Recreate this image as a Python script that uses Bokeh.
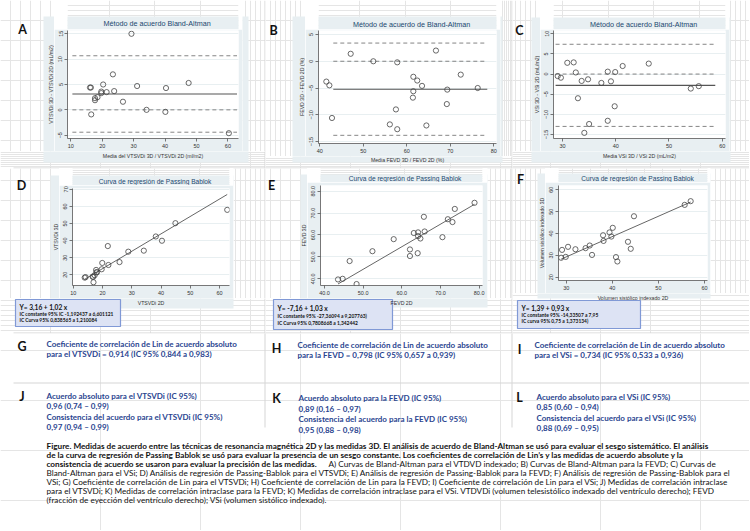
import math
from bokeh.plotting import figure
from bokeh.models import Range1d, FixedTicker, NumeralTickFormatter
from bokeh.layouts import column, row
from bokeh.embed import file_html
from bokeh.resources import INLINE
from bokeh.core.properties import value

# ---------------- data ----------------
# A) Bland-Altman VTSVDi
A_MEAN = [29.3, 23.4, 16.1, 16.4, 20.3, 31.1, 40.3, 47.5, 19.7, 19.7, 21.4, 23.8, 17.7, 18.5, 17.7, 26.6, 16.5, 34.1, 40.1, 60.3]
A_DIFF = [15.0, 7.0, 4.4, 4.4, 5.0, 4.7, 4.3, 5.3, 3.6, 3.3, 3.5, 3.7, 2.3, 2.5, 1.9, 1.6, -0.9, 0.0, -0.4, -4.6]
A_BIAS = 3.13
A_LOA = [-4.41, 10.67]
A_LINE_X = [10.5, 62.9]
A_XTICKS = [10, 20, 30, 40, 50, 60]
A_YTICKS = [-5, 0, 5, 10, 15]

# B) Bland-Altman FEVD
B_MEAN = [47.1, 52.3, 57.8, 66.7, 72.4, 41.5, 42.2, 61.5, 62.4, 63.5, 61.5, 69.3, 76.3, 61.4, 57.5, 69.2, 42.8, 56.1, 57.8, 64.5]
B_DIFF = [1.4, 0.0, -0.2, 2.0, -2.5, -3.8, -4.5, -2.9, -3.6, -4.6, -5.6, -5.3, -5.0, -6.8, -9.0, -8.0, -10.6, -11.8, -12.7, -12.0]
B_BIAS = -5.22
B_LOA = [-13.84, 3.40]
B_LINE_X = [43.1, 78.5]
B_XTICKS = [40, 50, 60, 70, 80]
B_YTICKS = [-15, -10, -5, 0, 5]

# C) Bland-Altman VSi
C_MEAN = [29.1, 29.7, 30.9, 32.1, 32.5, 33.6, 34.8, 37.3, 38.5, 39.1, 39.9, 41.3, 46.2, 32.9, 39.8, 38.5, 35.0, 34.1, 54.1, 55.6]
C_DIFF = [-0.5, -0.9, 2.8, 2.9, 0.4, -1.7, -1.3, -2.2, 0.6, -1.8, 0.5, 2.0, 2.6, -6.0, -8.0, -11.6, -12.4, -14.6, -3.6, -3.0]
C_BIAS = -2.8
C_LOA = [-13.0, 7.4]
C_LINE_X = [28.7, 58.7]
C_XTICKS = [30, 40, 50, 60]
C_YTICKS = [-15, -10, -5, 0, 5, 10]

# D) Passing-Bablok VTSVDi
D_2D = [21.8, 19.9, 13.9, 14.2, 17.8, 28.8, 38.2, 44.9, 17.9, 18.1, 19.7, 22.0, 16.6, 17.3, 16.8, 25.8, 16.9, 34.1, 40.3, 62.6]
D_3D = [36.8, 26.9, 18.3, 18.6, 22.8, 33.5, 42.4, 50.2, 21.5, 21.4, 23.2, 25.7, 18.9, 19.7, 18.7, 27.4, 15.6, 34.1, 39.9, 58.0]
D_FIT = [3.16, 1.02]
D_XTICKS = [10, 20, 30, 40, 50, 60]
D_YTICKS = [20, 30, 40, 50, 60, 70]

# E) Passing-Bablok FEVD
E_2D = [78.8, 73.7, 65.7, 71.9, 73.1, 65.9, 63.1, 64.2, 64.2, 64.8, 70.5, 57.9, 62.1, 64.1, 62.1, 52.4, 46.5, 43.5, 44.7, 48.3]
E_3D = [74.7, 71.9, 68.3, 67.2, 65.9, 61.6, 60.9, 61.2, 59.5, 58.4, 59.0, 58.1, 53.4, 51.7, 50.4, 52.6, 48.1, 39.7, 40.0, 37.6]
E_FIT = [-7.16, 1.03]
E_XTICKS = [40, 50, 60, 70, 80]
E_YTICKS = [40, 50, 60, 70, 80]

# F) Passing-Bablok VSi
F_2D = [57.0, 55.7, 44.7, 40.1, 39.4, 39.8, 38.0, 38.1, 43.4, 44.0, 35.1, 34.2, 32.0, 30.4, 29.1, 28.9, 29.9, 35.6, 40.8, 41.1]
F_3D = [54.8, 53.1, 47.9, 42.6, 40.5, 38.6, 39.2, 36.6, 36.2, 33.0, 34.5, 33.3, 32.8, 33.9, 32.5, 28.9, 29.3, 30.2, 29.2, 27.2]
F_FIT = [1.39, 0.93]
F_XTICKS = [30, 40, 50, 60]
F_YTICKS = [20, 30, 40, 50, 60]

# ---------------- texts ----------------
BOX_TEXT = {
    "D": ["Y= 3,16 + 1,02 x", "IC constante 95% IC -1,192437 a 6,601121", "IC Curva 95% 0,838565 a 1,210084"],
    "E": ["Y= -7,16 + 1,03 x", "IC constante 95% -27,36094 a  9,207763)", "IC Curva 95% 0,7808668 a 1,342442"],
    "F": ["Y= 1,39 + 0,93 x", "IC constante 95% -14,33507 a 7,95", "IC curva 95% 0,75 a 1,373134)"],
}
LIN_TEXT = {
    "G": ["Coeficiente de correlación de Lin de acuerdo absoluto", "para el VTSVDi = 0,914  (IC 95% 0,844 a  0,983)"],
    "H": ["Coeficiente de correlación de Lin de acuerdo absoluto", "para la FEVD = 0,798  (IC 95% 0,657 a  0,939)"],
    "I": ["Coeficiente de correlación de Lin de acuerdo absoluto", "para el VSi  = 0,734  (IC 95% 0,533 a  0,936)"],
}
ICC_TEXT = {
    "J": ["Acuerdo absoluto para el VTSVDi (IC 95%)", "0,96 (0,74 – 0,99)", "Consistencia del acuerdo para el VTSVDi (IC 95%)", "0,97 (0,94 – 0,99)"],
    "K": ["Acuerdo absoluto para la FEVD (IC 95%)", "0,89 (0,16 – 0,97)", "Consistencia del acuerdo para la FEVD (IC 95%)", "0,95 (0,88 – 0,98)"],
    "L": ["Acuerdo absoluto para el VSi (IC 95%)", "0,85 (0,60 – 0,94)", "Consistencia del acuerdo para el VSi (IC 95%)", "0,88 (0,69 – 0,95)"],
}
CAPTION_BOLD = [
    "Figure. Medidas de acuerdo entre las técnicas de resonancia magnética 2D y las medidas 3D. El análisis de acuerdo de Bland-Altman se usó para evaluar el sesgo sistemático. El análisis",
    "de la curva de regresión de Passing Bablok se usó para evaluar la presencia de un sesgo constante. Los coeficientes de  correlación de Lin’s y las medidas de acuerdo absolute y la",
    "consistencia de acuerdo se usaron para evaluar la precisión de las medidas.",
]
CAPTION_NORMAL = [
    "A) Curvas de Bland-Altman para el VTDVD indexado; B) Curvas de Bland-Altman para la FEVD; C) Curvas de",
    "Bland-Altman para el VSi; D) Análisis de regresión de Passing-Bablok para el VTSVDi; E) Análisis de regresión de Passing-Bablok para la FEVD; F) Análisis de regresión de Passing-Bablok para el",
    "VSi; G) Coeficiente de correlación de Lin para el VTSVDi; H) Coeficiente de correlación de Lin para la FEVD; I) Coeficiente de correlación de Lin para el VSi; J) Medidas de correlación intraclase",
    "para el VTSVDi; K) Medidas de correlación intraclase para la FEVD; K) Medidas de correlación intraclase para el VSi. VTDVDi (volumen telesistólico indexado del ventrículo derecho); FEVD",
    "(fracción de eyección del ventrículo derecho); VSi (volumen sistólico indexado).",
]

# ---------------- styles ----------------
BG = "#e8eff2"
NAVY = "#1a476f"
SEP = "#d6d6d6"
TXT_BLUE = "#2a4590"
BOX_FILL = "#dde3f4"
BOX_LINE = "#8099d6"
MARK = "#444444"
CHART_FONT = "Liberation Sans"
DOC_FONT = "Lato"

# ---------------- page decorations (page pixel coordinates) ----------------
DECOR = []


def drect(x0, y0, x1, y1, fill, line=None, lw=1.0):
    DECOR.append(("rect", x0, y0, x1, y1, fill, line, lw))


def dtext(x, y, text, size, color="#333333", font=CHART_FONT, style="normal", align="center", angle=0.0):
    DECOR.append(("text", x, y, text, size, color, font, style, align, angle))


def pane(x0, y0, x1, y1):
    p = figure(width=x1 - x0, height=y1 - y0, x_range=Range1d(x0, x1), y_range=Range1d(-y1, -y0),
               output_backend="svg", toolbar_location=None, x_axis_location=None,
               y_axis_location=None, min_border=0, title=None)
    p.outline_line_color = None
    p.background_fill_color = "white"
    p.border_fill_color = "white"
    for d in DECOR:
        if d[0] == "rect":
            _, rx0, ry0, rx1, ry1, fill, line, lw = d
            if rx1 <= x0 - 2 or rx0 >= x1 + 2 or ry1 <= y0 - 2 or ry0 >= y1 + 2:
                continue
            p.quad(left=[rx0], right=[rx1], top=[-ry0], bottom=[-ry1], fill_color=fill,
                   line_color=line, line_width=lw)
        else:
            _, tx, ty, text, size, color, font, style, align, angle = d
            if not (x0 <= tx < x1 and y0 <= ty < y1):
                continue
            p.text(x=[tx], y=[-ty], text=[text], text_font=value(font), text_font_size=f"{size}px",
                   text_color=color, text_font_style=style, text_align=align,
                   text_baseline="middle", angle=angle)
    return p


def chart(region, frame, xr, yr, xticks, yticks, fmt=None):
    cx0, cy0, cx1, cy1 = region
    fx0, fy0, fx1, fy1 = frame
    p = figure(width=cx1 - cx0, height=cy1 - cy0, x_range=Range1d(*xr), y_range=Range1d(*yr),
               output_backend="svg", toolbar_location=None, title=None,
               min_border_left=fx0 - cx0, min_border_right=cx1 - fx1,
               min_border_top=fy0 - cy0, min_border_bottom=cy1 - fy1)
    p.border_fill_color = BG
    p.background_fill_color = "white"
    p.outline_line_color = None
    p.xaxis.ticker = FixedTicker(ticks=xticks)
    p.yaxis.ticker = FixedTicker(ticks=yticks)
    if fmt:
        p.xaxis.formatter = NumeralTickFormatter(format=fmt)
        p.yaxis.formatter = NumeralTickFormatter(format=fmt)
    for ax in p.axis:
        ax.major_label_text_font_size = "5.5px"
        ax.major_label_text_font = CHART_FONT
        ax.major_label_text_color = "#333333"
        ax.axis_line_color = "#555555"
        ax.axis_line_width = 0.8
        ax.major_tick_line_color = "#555555"
        ax.major_tick_line_width = 0.8
        ax.minor_tick_line_color = None
        ax.major_tick_out = 3
        ax.major_tick_in = 0
        ax.major_label_standoff = 2
    p.yaxis.major_label_orientation = "vertical"
    p.xgrid.visible = False
    p.ygrid.grid_line_color = "#e2ebee"
    p.ygrid.grid_line_width = 0.8
    return p


def ba_chart(region, frame, xr, yr, xticks, yticks, mean, diff, bias, loa, line_x):
    p = chart(region, frame, xr, yr, xticks, yticks)
    for lv in (loa[1], 0.0, loa[0]):
        p.line(x=line_x, y=[lv, lv], line_color="#777777", line_width=0.9, line_dash="4 3")
    p.line(x=line_x, y=[bias, bias], line_color="#555555", line_width=1.1)
    p.scatter(x=mean, y=diff, marker="circle", size=5.2, fill_color=None, line_color=MARK, line_width=0.8)
    return p


def pb_chart(region, frame, xr, yr, xticks, yticks, x2d, y3d, fit, fmt=None):
    p = chart(region, frame, xr, yr, xticks, yticks, fmt)
    lo, hi = min(x2d), max(x2d)
    p.line(x=[lo, hi], y=[fit[0] + fit[1] * lo, fit[0] + fit[1] * hi], line_color="#666666", line_width=1.0)
    p.scatter(x=x2d, y=y3d, marker="circle", size=5.2, fill_color=None, line_color=MARK, line_width=0.8)
    return p


# graph regions (light blue-grey)
for b in [(43, 16, 248, 162), (292, 16, 502, 162), (531, 17, 730, 162),
          (50, 175, 233, 308), (300, 174, 487, 307), (537, 173, 710, 298)]:
    drect(*b, BG)
# table rules
drect(264, 0, 265, 427, SEP)
drect(511, 0, 512, 427, SEP)
drect(13, 167, 749, 168, SEP)
drect(13, 332, 749, 333, SEP)
drect(13, 382, 749, 383, SEP)
# equation boxes
drect(15, 299, 120, 326, BOX_FILL, BOX_LINE, 1.2)
drect(273, 299, 392, 329, BOX_FILL, BOX_LINE, 1.2)
drect(517, 300, 640, 328, BOX_FILL, BOX_LINE, 1.2)

# chart titles and axis titles
for (x, y, t, s) in [(152.5, 23, "Método de acuerdo Bland-Altman", 7.2),
                     (407, 23.5, "Método de acuerdo de Bland-Altman", 7.2),
                     (639, 23.5, "Método de acuerdo Bland-Altman", 7.2),
                     (150.5, 180.5, "Curva de regresión de Passing Bablok", 6.6),
                     (401, 178, "Curva de regresión de Passing Bablok", 6.6),
                     (632.5, 178, "Curva de regresión de Passing Bablok", 6.6)]:
    dtext(x, y, t, s, color=NAVY)
for (x, y, t) in [(50, 84, "VTSVDi 3D - VTSVDi 2D (mL/m2)"), (301.5, 86.5, "FEVD 3D - FEVD 2D (%)"),
                  (536, 84, "VSi 3D - VSi 2D (mL/m2)"), (55, 236.5, "VTSVDi 3D"),
                  (303, 235, "FEVD 3D"), (541.5, 232.5, "Volumen sistólico indexado 3D")]:
    dtext(x, y, t, 5.2, angle=math.pi / 2)
for (x, y, t) in [(152.5, 155.5, "Media del VTSVDi 3D / VTSVDi 2D (ml/m2)"), (407, 159.5, "Media FEVD 3D / FEVD 2D (%)"),
                  (639, 155, "Media VSi 3D / VSi 2D (mL/m2)"), (150.5, 302, "VTSVDi 2D"),
                  (401, 302.5, "FEVD 2D"), (632.5, 297, "Volumen sistólico indexado 2D")]:
    dtext(x, y, t, 5.2)

# panel letters
for (x, y, t) in [(22, 29, "A"), (273, 29.5, "B"), (519, 30, "C"), (21, 185, "D"), (271, 185, "E"),
                  (520, 179, "F"), (21.5, 345.5, "G"), (276, 347.5, "H"), (519, 348.5, "I"),
                  (21.5, 396, "J"), (276, 397.5, "K"), (519, 396.5, "L")]:
    dtext(x, y, t, 12.5, color="#111111", font=DOC_FONT, style="bold")

# equation box texts
for key, (x, y, gaps) in {"D": (19, 306.5, (7, 6)), "E": (277, 307, (8, 7)), "F": (521, 307.5, (7, 6))}.items():
    lines = BOX_TEXT[key]
    dtext(x, y, lines[0], 6.6, color="#111111", font=DOC_FONT, style="bold", align="left")
    dtext(x, y + gaps[0], lines[1], 4.9, color="#111111", font=DOC_FONT, style="bold", align="left")
    dtext(x, y + gaps[0] + gaps[1], lines[2], 4.9, color="#111111", font=DOC_FONT, style="bold", align="left")

# Lin and ICC texts
for key, (x, y) in {"G": (46, 343.5), "H": (297, 344.5), "I": (534, 344.5)}.items():
    for i, s in enumerate(LIN_TEXT[key]):
        dtext(x, y + 10 * i, s, 8, color=TXT_BLUE, font=DOC_FONT, style="bold", align="left")
for key, (x, y) in {"J": (46, 395), "K": (298, 397.5), "L": (536, 396)}.items():
    for i, s in enumerate(ICC_TEXT[key]):
        dtext(x, y + 10.5 * i, s, 8, color=TXT_BLUE, font=DOC_FONT, style="bold", align="left")

# caption
CAP_Y0, CAP_DY = 445, 9.0
for i, s in enumerate(CAPTION_BOLD):
    dtext(46, CAP_Y0 + CAP_DY * i, s, 8.2, color="#111111", font=DOC_FONT, style="bold", align="left")
for i, s in enumerate(CAPTION_NORMAL):
    x = 328 if i == 0 else 46
    dtext(x, CAP_Y0 + CAP_DY * (2 + i), s, 8.2, color="#111111", font=DOC_FONT, style="normal", align="left")


def cell(cell_box, chart_box, chart_fig):
    cx0, cy0, cx1, cy1 = cell_box
    hx0, hy0, hx1, hy1 = chart_box
    left = pane(cx0, cy0, hx0, hy1)
    top = pane(hx0, cy0, hx1, hy0)
    right = pane(hx1, cy0, cx1, hy1)
    bottom = pane(cx0, hy1, cx1, cy1)
    return column(row(left, column(top, chart_fig), right), bottom)


cA = cell((0, 0, 265, 168), (54, 29, 242, 151),
          ba_chart((54, 29, 242, 151), (67, 30, 238, 138), (8.95, 63.37), (-5.65, 15.65),
                   A_XTICKS, A_YTICKS, A_MEAN, A_DIFF, A_BIAS, A_LOA, A_LINE_X))
cB = cell((265, 0, 512, 168), (305, 29, 500, 156),
          ba_chart((305, 29, 500, 156), (318, 30, 496, 143), (39.7, 80.62), (-15.37, 5.75),
                   B_XTICKS, B_YTICKS, B_MEAN, B_DIFF, B_BIAS, B_LOA, B_LINE_X))
cC = cell((512, 0, 749, 168), (540, 29, 729, 151),
          ba_chart((540, 29, 729, 151), (553, 30, 725, 138), (28.31, 60.62), (-16.0, 10.82),
                   C_XTICKS, C_YTICKS, C_MEAN, C_DIFF, C_BIAS, C_LOA, C_LINE_X))
cD = cell((0, 168, 265, 333), (59, 185, 233, 298),
          pb_chart((59, 185, 233, 298), (72, 188, 229, 285), (9.73, 63.38), (13.69, 70.51),
                   D_XTICKS, D_YTICKS, D_2D, D_3D, D_FIT))
cE = cell((265, 168, 512, 333), (307, 182, 487, 298),
          pb_chart((307, 182, 487, 298), (320, 185, 482, 285), (38.97, 80.86), (36.94, 82.6),
                   E_XTICKS, E_YTICKS, E_2D, E_3D, E_FIT, fmt="0.0"))
cF = cell((512, 168, 749, 333), (545, 182, 710, 293),
          pb_chart((545, 182, 710, 293), (558, 185, 707, 280), (28.33, 60.65), (18.49, 61.97),
                   F_XTICKS, F_YTICKS, F_2D, F_3D, F_FIT))
bottom = pane(0, 333, 749, 530)

layout = column(row(cA, cB, cC), row(cD, cE, cF), bottom)
open("out.html", "w").write(file_html(layout, INLINE))
